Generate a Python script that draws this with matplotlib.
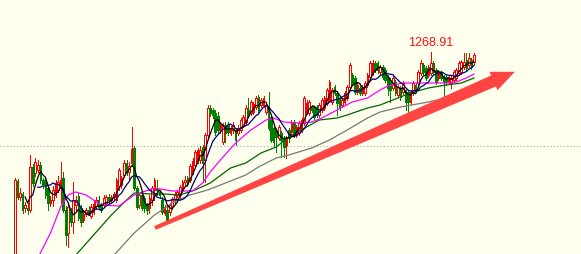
import numpy as np
import pandas as pd
import matplotlib
matplotlib.use("Agg")
import matplotlib.pyplot as plt
from matplotlib.patches import Polygon

# candle data (price), one entry per bar
opens = [1166, 1204.5, 1196.5, 1198, 1191, 1191, 1190, 1211.5, 1208.5, 1210,
         1212.5, 1205, 1205, 1201, 1193.5, 1195, 1197.5, 1200, 1201, 1206, 1190,
         1178.5, 1189, 1184, 1192.5, 1197, 1191, 1185, 1188, 1190, 1187, 1189,
         1192, 1195, 1192.5, 1192.5, 1193.5, 1196.5, 1195, 1196.5, 1195, 1202, 1202.5,
         1207.5, 1213.5, 1209, 1213.5, 1221, 1201, 1192.5, 1197.5, 1196, 1192.5,
         1191, 1195, 1200, 1201, 1199, 1195, 1188.5, 1190, 1189, 1192,
         1195, 1197.5, 1197.5, 1200, 1204, 1206, 1205, 1209, 1212.5, 1215,
         1215, 1221.5, 1215, 1227.5, 1241, 1240, 1238.5, 1237, 1230, 1224,
         1232.5, 1232.5, 1228.5, 1230, 1230, 1228.5, 1230, 1232.5, 1234, 1240,
         1238.5, 1239, 1241.5, 1246.5, 1242.5, 1242.5, 1239, 1241, 1236.5, 1231,
         1230, 1226, 1228.5, 1226, 1222.5, 1230, 1229, 1234, 1227.5, 1228.5,
         1230, 1233.5, 1239, 1238.5, 1241.5, 1241, 1241.5, 1237.5, 1240, 1241,
         1243.5, 1245, 1244, 1251.5, 1248.5, 1246, 1242.5, 1244, 1246, 1251.5,
         1257.5, 1256, 1249, 1251, 1248.5, 1248.5, 1252.5, 1256.5, 1258.5, 1263.5,
         1263.5, 1259, 1261.5, 1260, 1256.5, 1255, 1251, 1254, 1247.5, 1251,
         1249, 1250, 1249, 1244, 1248.5, 1252.5, 1253.5, 1258.5, 1262.5, 1261,
         1257.5, 1258.5, 1263.5, 1260, 1256, 1258.5, 1256.5, 1256.5, 1254, 1253.5,
         1255, 1256, 1258.5, 1259, 1261.5, 1265, 1262.5, 1265, 1264]
highs = [1206, 1205.5, 1201, 1199, 1194, 1193.5, 1217.5, 1213, 1216, 1215,
         1214, 1206, 1206, 1202, 1197, 1202, 1205, 1207, 1214, 1209, 1192,
         1193, 1191, 1204, 1197, 1198.5, 1192.5, 1190, 1191, 1192, 1193, 1195,
         1196.5, 1197, 1193.5, 1197.5, 1197.5, 1198, 1197.5, 1199, 1206, 1211, 1207,
         1215, 1215, 1214, 1231.5, 1222, 1202, 1198.5, 1198.5, 1197, 1193.5,
         1197.5, 1202, 1206, 1205, 1200, 1196.5, 1192.5, 1192.5, 1193.5, 1196.5,
         1199, 1200, 1202.5, 1205, 1207, 1207, 1213, 1216, 1220, 1221,
         1222, 1222.5, 1228.5, 1242.5, 1242.5, 1241, 1240, 1239, 1234, 1233.5,
         1234, 1234, 1232, 1234, 1231, 1232.5, 1236, 1237.5, 1242.5, 1246,
         1245, 1244, 1247, 1247.5, 1246, 1247, 1243.5, 1249, 1237.5, 1232,
         1231, 1232.5, 1229.5, 1227, 1227, 1231, 1235, 1235, 1232.5, 1234.5,
         1236, 1247, 1245, 1245, 1242.5, 1242, 1242.5, 1243.5, 1246, 1247,
         1251, 1255, 1251, 1252.5, 1249.5, 1247, 1246, 1249.5, 1252.5, 1263.5,
         1258.5, 1257, 1253.5, 1252, 1252.5, 1254.5, 1258.5, 1264.5, 1265, 1264.5,
         1264.5, 1262.5, 1262.5, 1261, 1257.5, 1256, 1257, 1255, 1252.5, 1252,
         1254.5, 1251, 1250, 1250, 1254.5, 1253.5, 1260, 1265, 1263.5, 1262,
         1262.5, 1268.91, 1264.5, 1261, 1260, 1259.5, 1257.5, 1257.5, 1257.5, 1257,
         1260, 1261, 1264.5, 1265, 1268.5, 1268.5, 1268.5, 1266, 1268.5]
lows = [1164, 1195.5, 1195, 1188.5, 1189, 1188, 1189, 1202, 1207, 1209,
        1203.5, 1201, 1196, 1190, 1192, 1192, 1196.5, 1199, 1193.5, 1189, 1172.5,
        1171.5, 1182, 1178.5, 1190, 1185, 1182, 1184, 1187, 1187.5, 1186, 1188,
        1190.5, 1190.5, 1189, 1191.5, 1192.5, 1193.5, 1194, 1195, 1194, 1200, 1201,
        1206.5, 1207.5, 1205, 1212.5, 1200, 1190.5, 1191, 1190, 1189, 1188,
        1188.5, 1192.5, 1195, 1197.5, 1196, 1188, 1187.5, 1184, 1187.5, 1190.5,
        1193.5, 1196.5, 1196, 1199, 1202, 1202, 1204, 1208, 1211.5, 1213.5,
        1213.5, 1204, 1204, 1226.5, 1237, 1236, 1227.5, 1228.5, 1228.5, 1223,
        1224, 1227.5, 1227.5, 1228.5, 1222.5, 1227.5, 1229, 1231.5, 1233, 1236.5,
        1237.5, 1238, 1240.5, 1239, 1241.5, 1241.5, 1238, 1230, 1224, 1221.5,
        1219, 1225, 1216.5, 1216.5, 1216, 1224, 1228, 1226.5, 1226.5, 1227.5,
        1229, 1232.5, 1238, 1237.5, 1239, 1235.5, 1236.5, 1236.5, 1239, 1240,
        1242.5, 1244, 1243, 1247.5, 1237.5, 1240, 1241.5, 1243, 1245, 1250.5,
        1252.5, 1248, 1248, 1247.5, 1247.5, 1247.5, 1251.5, 1255.5, 1257.5, 1259,
        1258.5, 1258, 1255.5, 1254, 1247.5, 1244, 1250, 1247.5, 1246.5, 1245,
        1248, 1240, 1239, 1243, 1247.5, 1249, 1252.5, 1257.5, 1258, 1255,
        1256.5, 1257.5, 1258, 1253, 1255, 1255, 1246.5, 1252.5, 1253, 1251,
        1254, 1255, 1257.5, 1258, 1260.5, 1260, 1261.5, 1260.5, 1263]
closes = [1205, 1196.5, 1198.5, 1190, 1192.5, 1190, 1211.5, 1203.5, 1214, 1212.5,
          1205, 1203, 1197.5, 1193.5, 1195, 1200, 1203.5, 1204, 1205, 1190, 1177.5,
          1191.5, 1184, 1195, 1195, 1186, 1184, 1188, 1190, 1189, 1191.5, 1193,
          1195, 1191.5, 1190, 1196, 1196.5, 1195, 1196.5, 1198, 1205, 1210, 1206,
          1213.5, 1209, 1212, 1220.5, 1201, 1191.5, 1197.5, 1191, 1191, 1190,
          1196, 1201, 1205, 1200, 1197.5, 1189, 1191.5, 1185, 1192.5, 1195,
          1197.5, 1199, 1201.5, 1204, 1205, 1203, 1212, 1214.5, 1219, 1220,
          1220, 1213.5, 1227.5, 1241, 1238.5, 1237.5, 1229, 1230, 1232.5, 1232.5,
          1228.5, 1229, 1231, 1232.5, 1225, 1231, 1235, 1236.5, 1241, 1237.5,
          1244, 1243, 1246, 1240, 1245, 1246, 1242.5, 1231, 1225, 1224,
          1226.5, 1231.5, 1225, 1221.5, 1226, 1226, 1234, 1227.5, 1231.5, 1233.5,
          1235, 1246, 1243.5, 1244, 1240, 1236.5, 1237.5, 1242.5, 1245, 1246,
          1250, 1254, 1250, 1248.5, 1243.5, 1241, 1245, 1248.5, 1251.5, 1262.5,
          1253.5, 1249, 1252.5, 1248.5, 1251.5, 1253.5, 1257.5, 1263.5, 1263.5, 1260,
          1260, 1261.5, 1256.5, 1255, 1251, 1250, 1256, 1248.5, 1251.5, 1246.5,
          1253.5, 1244, 1244, 1249, 1253.5, 1250, 1259, 1263.5, 1259, 1256,
          1261.5, 1263.5, 1259, 1254, 1259, 1256, 1254, 1254, 1256.5, 1256,
          1259, 1260, 1263.5, 1264, 1264, 1261, 1266, 1261.5, 1267.5]

# slower averages at some bars (bar index, price)
mid_idx = [9, 14, 18, 21, 24, 28, 34, 41, 47, 55, 62, 70, 74, 77, 81, 87, 93,
           99, 102, 106, 112, 117, 121, 127, 133, 139, 144, 147, 153, 160, 170,
           174, 178, 181]
mid_val = [1166, 1178.5, 1191.5, 1197.5, 1199, 1197.5, 1192.5, 1192, 1197.5,
           1201, 1199.5, 1199.5, 1203.5, 1209, 1215, 1223.5, 1230, 1235, 1236,
           1234, 1233.5, 1234, 1236, 1240, 1244, 1246, 1250, 1252, 1253.5,
           1253.5, 1253.5, 1254, 1256, 1258]
slow_idx = [23, 31, 38, 44, 47, 54, 59, 65, 71, 77, 85, 91, 97, 103, 108, 115,
            120, 127, 131, 139, 144, 149, 156, 163, 170, 176, 181]
slow_val = [1166, 1177.5, 1187.5, 1195, 1198.5, 1198, 1198, 1197.5, 1200,
            1203.5, 1211, 1213.5, 1218.5, 1221.5, 1226.5, 1231.5, 1235, 1236,
            1237.5, 1241, 1242.5, 1245, 1248.5, 1251, 1252.5, 1253.5, 1256]
long_idx = [38, 47, 55, 62, 69, 76, 84, 91, 96, 103, 108, 117, 124, 131, 139,
            144, 152, 163, 170]
long_val = [1166, 1178.5, 1187.5, 1193.5, 1197.5, 1200, 1204, 1207.5, 1211.5,
            1216, 1217.5, 1221, 1225, 1230, 1236, 1239, 1241.5, 1244, 1246]

peak_idx = 164
peak_label = "1268.91"
level = 1222.0

bg = "#ffffee"
up_color = "#ff0000"
down_color = "#008000"

fig = plt.figure(figsize=(5.81, 2.54), dpi=100)
fig.patch.set_facecolor(bg)
ax = fig.add_axes([0, 0, 1, 1])
ax.set_facecolor(bg)

o = np.array(opens)
h = np.array(highs)
l = np.array(lows)
c = np.array(closes)
x = np.arange(len(c))
up = c >= o

ax.axhline(level, color="#a8a8a8", lw=0.8, ls=(0, (1, 2)), zorder=1)

# wicks then bodies (up bars hollow), drawn crisp like the terminal does
ax.vlines(x, l, h, colors=np.where(up, up_color, down_color), lw=0.7,
          antialiased=False, zorder=2)
ax.bar(x[up], (c - o)[up], bottom=o[up], width=0.65, facecolor=bg,
       edgecolor=up_color, lw=0.6, antialiased=False, zorder=3)
ax.bar(x[~up], (o - c)[~up], bottom=c[~up], width=0.65, color=down_color,
       edgecolor=down_color, lw=0.6, antialiased=False, zorder=3)

s = pd.Series(c)
ax.plot(long_idx, long_val, color="#787878", lw=0.9, zorder=4)
ax.plot(slow_idx, slow_val, color="#006400", lw=0.9, zorder=4)
ax.plot(mid_idx, mid_val, color="#ff00ff", lw=0.9, zorder=4)
ax.plot(x, s.rolling(10).mean(), color="#000080", lw=0.9, zorder=5)
ax.plot(x, s.rolling(5).mean(), color="#000000", lw=0.9, zorder=5)

ax.annotate(peak_label, xy=(peak_idx, highs[peak_idx]), xytext=(0, 2),
            textcoords="offset points", ha="center", va="bottom",
            color="#ff1010", fontsize=9, family="Liberation Sans")

ax.set_xlim(-5.91, 223.2)
ax.set_ylim(1168, 1295)
ax.axis("off")

# trend arrow (pixel coords, y up)
arrow_px = [(154.2, 27.8), (491.1, 178.5), (489.5, 182.2), (514.9, 182.2),
            (497.5, 163.8), (495.9, 167.5), (155.8, 24.2)]
pts = [(px / 581, py / 254) for px, py in arrow_px]
fig.add_artist(Polygon(pts, closed=True, transform=fig.transFigure,
                       facecolor="#ff4444", edgecolor="none", zorder=10))

fig.savefig("out.png", dpi=100, facecolor=bg)
